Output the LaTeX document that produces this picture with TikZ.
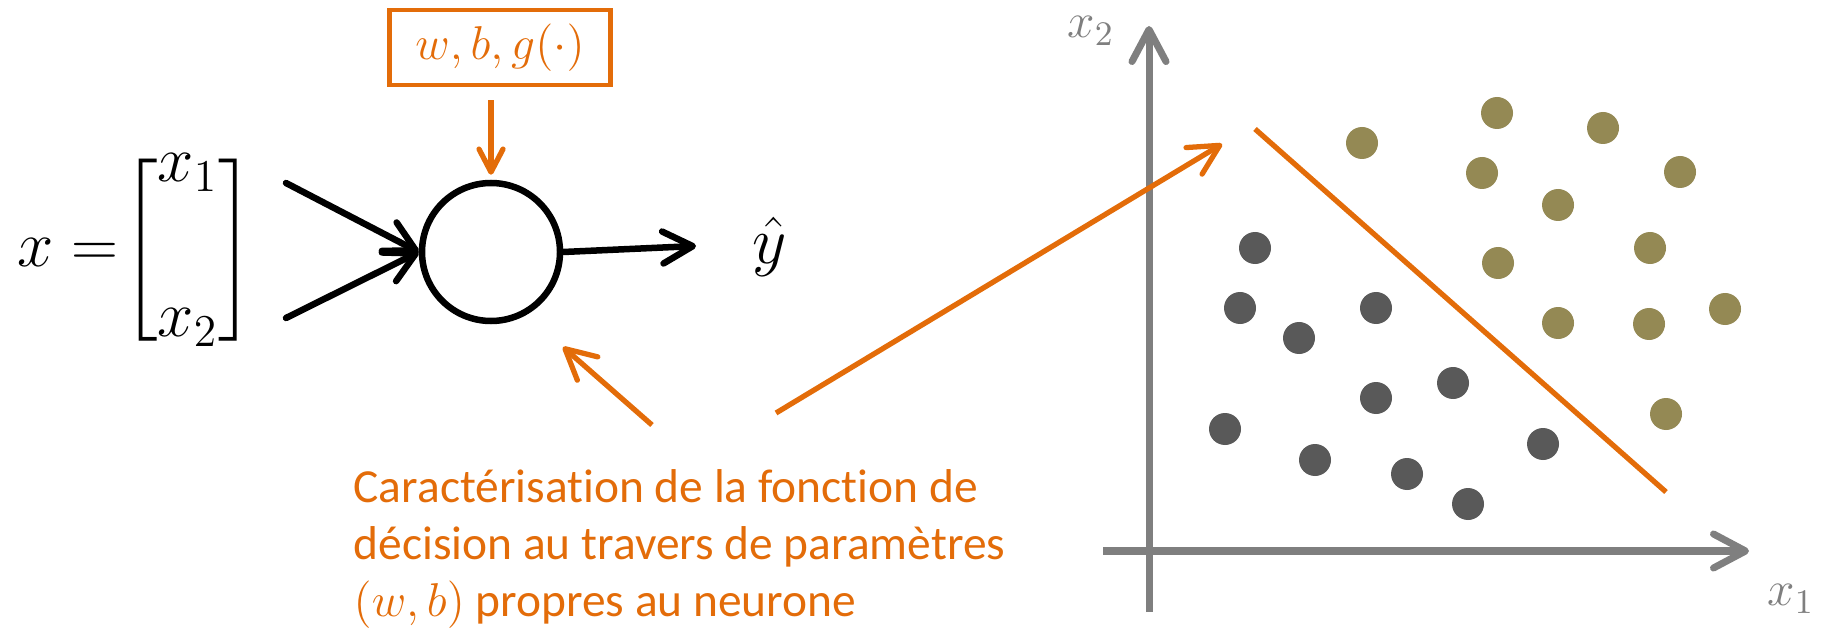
\RequirePackage{fix-cm}
\documentclass[tikz,border=0pt]{standalone}
\usepackage{amsmath}
\usepackage{fontspec}
\setmainfont{Carlito}[Ligatures=NoCommon]
\usetikzlibrary{arrows.meta, positioning, calc}
\definecolor{decorange}{RGB}{227,108,9}
\definecolor{axisgray}{RGB}{127,127,127}
\definecolor{classA}{RGB}{148,137,84}
\definecolor{classB}{RGB}{89,89,89}

\begin{document}
\begin{tikzpicture}[
  wire/.style={line width=1.85pt, line cap=round, -{Straight Barb[length=3mm, width=3.2mm, round]}},
  oarrow/.style={draw=decorange, line width=1.5pt, -{Straight Barb[length=3mm, width=3.1mm, round]}},
  axis/.style={draw=axisgray, line width=2pt, -{Straight Barb[length=3.2mm, width=3.4mm, round]}},
  obox/.style={draw=decorange, line width=1.3pt, minimum width=2.21cm, minimum height=0.75cm, inner sep=0pt, text=decorange, font=\fontsize{13.5}{15}\selectfont},
  neuronc/.style={circle, draw, line width=1.85pt, minimum size=1.38cm, inner sep=0pt},
  axlabel/.style={text=axisgray, font=\fontsize{14}{16}\selectfont}
]
  \useasboundingbox (0,0) rectangle (18.22,6.29);

  \node[inner sep=0pt, anchor=west, font=\fontsize{18.5}{22}\selectfont] (xvec) at (0.17, 3.79)
    {\renewcommand{\arraystretch}{0.3}$x = \mkern-4mu \begin{bmatrix} x_1 \\[34pt] x_2 \end{bmatrix}$};
  \node[neuronc] (neuron) at (4.91, 3.77) {};
  \node[obox] (params) at (5.00, 5.815) {$w, b, g(\cdot)$};
  \node[font=\fontsize{19}{23}\selectfont] (yhat) at (7.70, 3.82) {$\hat{y}$};

  \coordinate (in1) at (2.86, 4.46);
  \coordinate (in2) at (2.86, 3.11);
  \coordinate (out) at (6.96, 3.83);
  \draw[wire] (in1) -- (neuron.west);
  \draw[wire] (in2) -- (neuron.west);
  \draw[wire] (neuron.east) -- (out);
  \draw[oarrow, -{Straight Barb[length=2.3mm, width=2.4mm, round]}, shorten <=1.3mm, shorten >=0.5mm] (params.south -| neuron.north) -- (neuron.north);

  \node[anchor=base west, align=left, inner sep=0pt, text=decorange, font=\fontsize{13.5}{16.2}\selectfont] (caption) at (3.53, 0.13)
    {Caractérisation de la fonction de\\décision au travers de paramètres\\$(w, b)$ propres au neurone};

  \coordinate (ytail) at (6.52, 2.04);
  \coordinate (ytip) at (5.63, 2.82);
  \coordinate (ptail) at (7.76, 2.16);
  \coordinate (ptip) at (12.22, 4.85);

  \coordinate (xstart) at (11.03, 0.78);
  \coordinate (xend) at (17.49, 0.78);
  \coordinate (ystart) at (11.49, 0.17);
  \coordinate (yend) at (11.49, 6.03);
  \draw[axis] (xstart) -- (xend);
  \draw[axis] (ystart) -- (yend);
  \node[axlabel] (x1lab) at (17.91, 0.30) {$x_1$};
  \node[axlabel] (x2lab) at (10.91, 5.98) {$x_2$};

  \foreach \p in {(13.62,4.86), (14.97,5.16), (16.03,5.01), (14.82,4.56), (16.80,4.57), (15.58,4.24),
                  (16.50,3.81), (14.98,3.66), (17.25,3.20), (15.58,3.06), (16.49,3.05), (16.66,2.15)}
    \fill[classA] \p circle (0.16);
  \foreach \p in {(12.55,3.81), (12.40,3.21), (12.99,2.91), (13.76,3.21), (14.53,2.46), (13.76,2.31),
                  (12.25,2.00), (13.15,1.69), (14.07,1.55), (14.68,1.25), (15.43,1.85)}
    \fill[classB] \p circle (0.16);

  \coordinate (sepA) at (12.55, 5.00);
  \coordinate (sepB) at (16.66, 1.37);
  \draw[decorange, line width=1.5pt] (sepA) -- (sepB);

  \draw[oarrow] (ytail) -- (ytip);
  \draw[oarrow] (ptail) -- (ptip);
\end{tikzpicture}
\end{document}
